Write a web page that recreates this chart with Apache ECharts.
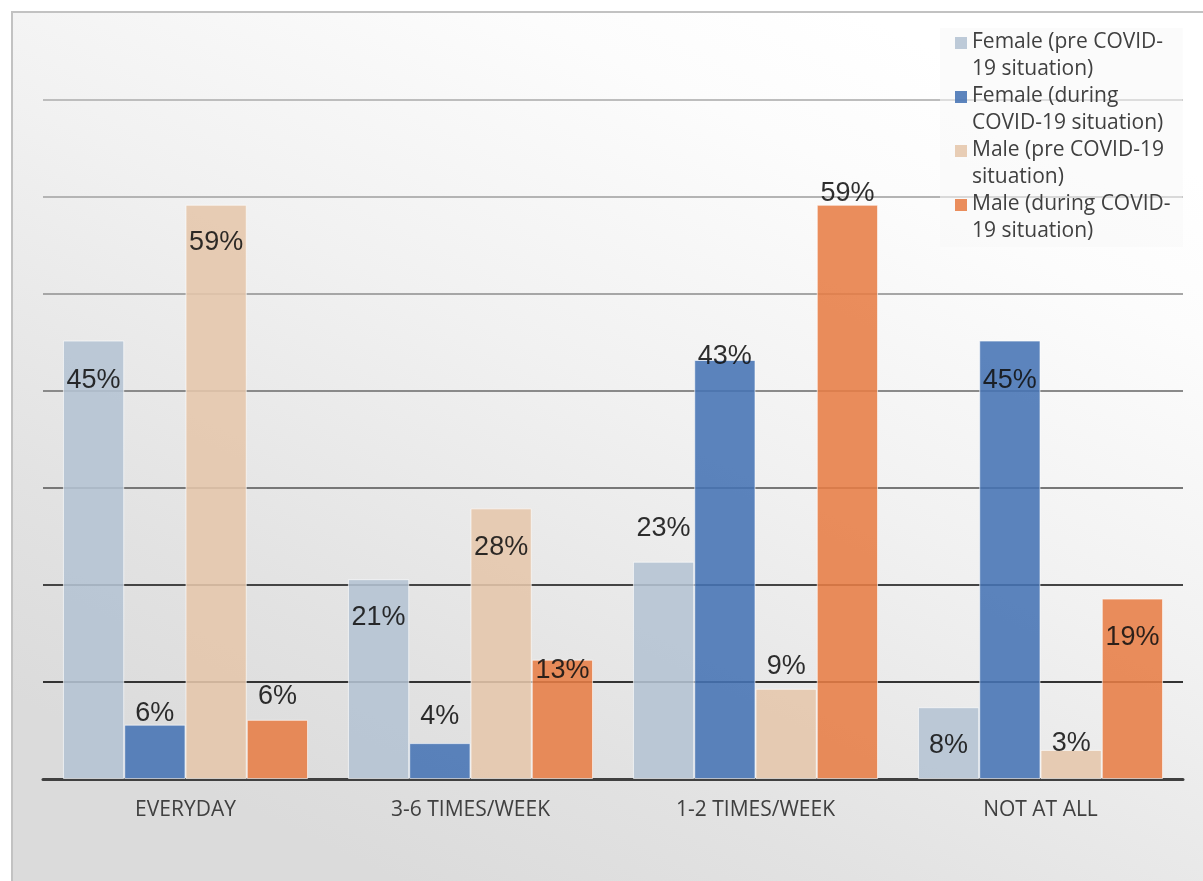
<!DOCTYPE html>
<html>
<head>
<meta charset="utf-8">
<script src="https://cdn.jsdelivr.net/npm/echarts@6/dist/echarts.min.js"></script>
<style>
html,body{margin:0;padding:0;background:#fff;}
#chart{width:1203px;height:881px;}
</style>
</head>
<body>
<div id="chart"></div>
<script>
const categories = ['EVERYDAY', '3-6 TIMES/WEEK', '1-2 TIMES/WEEK', 'NOT AT ALL'];
const seriesNames = [
  'Female (pre COVID-\n19 situation)',
  'Female (during\nCOVID-19 situation)',
  'Male (pre COVID-19\nsituation)',
  'Male (during COVID-\n19 situation)'
];
const femalePre = [45.2, 20.6, 22.4, 7.4];
const femaleDuring = [5.6, 3.7, 43.2, 45.2];
const malePre = [59.2, 27.9, 9.3, 3.0];
const maleDuring = [6.1, 12.3, 59.2, 18.6];
const femalePreLabels = ['45%', '21%', '23%', '8%'];
const femaleDuringLabels = ['6%', '4%', '43%', '45%'];
const malePreLabels = ['59%', '28%', '9%', '3%'];
const maleDuringLabels = ['6%', '13%', '59%', '19%'];
const yTicks = [0, 10, 20, 30, 40, 50, 60, 70];

// label vertical placement (px relative to bar top), style only
const labelDy = [
  [40, 38, -33, 38],
  [-11, -27, -3, 40],
  [38, 39, -22, -6],
  [-23, 11, -11, 39]
];
const colors = ['#b4c3d3', '#4673b4', '#e5c6ab', '#e77d46'];
const values = [femalePre, femaleDuring, malePre, maleDuring];
const labels = [femalePreLabels, femaleDuringLabels, malePreLabels, maleDuringLabels];

const chart = echarts.init(document.getElementById('chart'), null, {renderer: 'canvas'});

const series = values.map((vals, si) => ({
  name: seriesNames[si],
  type: 'bar',
  barGap: '0%',
  barCategoryGap: '14%',
  itemStyle: {color: colors[si], opacity: 0.88, borderColor: 'rgba(255,255,255,0.7)', borderWidth: 1},
  data: vals.map((v, i) => ({
    value: v,
    label: {
      show: true,
      position: ['50%', labelDy[si][i]],
      align: 'center',
      verticalAlign: 'middle',
      formatter: labels[si][i],
      fontFamily: 'Liberation Sans, Arial, sans-serif',
      fontSize: 27,
      color: '#111'
    }
  }))
}));

const option = {
  animation: false,
  backgroundColor: '#ffffff',
  graphic: [{
    type: 'rect',
    z: -10,
    silent: true,
    shape: {x: 12, y: 12, width: 1205, height: 885},
    style: {
      fill: new echarts.graphic.LinearGradient(0.7, 0, 0.35, 1, [
        {offset: 0, color: '#ffffff'},
        {offset: 0.15, color: '#fcfcfc'},
        {offset: 0.45, color: '#f1f1f1'},
        {offset: 0.8, color: '#e2e2e2'},
        {offset: 1, color: '#dbdbdb'}
      ]),
      stroke: '#c2c2c2',
      lineWidth: 2
    }
  }],
  grid: {left: 43, right: 20, top: 100, bottom: 102, containLabel: false},
  legend: {
    orient: 'vertical',
    left: 940,
    top: 28,
    padding: [1, 12, 2, 15],
    backgroundColor: 'rgba(248,248,248,0.55)',
    itemGap: 0,
    itemWidth: 12,
    itemHeight: 54,
    icon: 'path://M0,0 L0.001,0 Z M0,8 L12,8 L12,20 L0,20 Z M0,54 L0.001,54 Z',
    itemStyle: {borderWidth: 0},
    textStyle: {fontFamily: 'Open Sans', fontSize: 21, color: '#404040', lineHeight: 27},
    data: seriesNames
  },
  xAxis: {
    type: 'category',
    data: categories,
    axisLine: {show: true, lineStyle: {color: '#404040', width: 3}},
    axisTick: {show: false},
    axisLabel: {fontFamily: 'Open Sans', fontSize: 21, color: '#404040', margin: 21}
  },
  yAxis: {
    type: 'value',
    min: yTicks[0],
    max: yTicks[yTicks.length - 1],
    interval: 10,
    axisLine: {show: false},
    axisTick: {show: false},
    axisLabel: {show: false},
    splitLine: {
      show: true,
      lineStyle: {
        width: 2,
        color: ['#404040', '#333333', '#444444', '#777777', '#8a8a8a', '#a6a6a6', '#b4b4b4', '#bdbdbd']
      }
    }
  },
  series: series
};
chart.setOption(option);
</script>
</body>
</html>
